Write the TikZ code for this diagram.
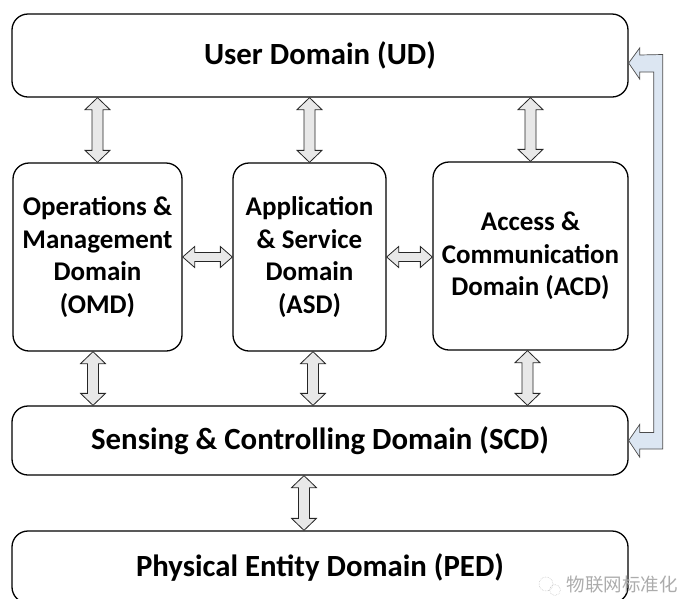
\documentclass[tikz,border=0pt]{standalone}
\usepackage{fontspec}
\setmainfont{Carlito}
\newfontfamily\cjk{Noto Sans CJK SC}
\usetikzlibrary{calc}

\definecolor{bandblue}{RGB}{220,230,242}
\definecolor{arrgray}{RGB}{232,232,232}

\tikzset{
  dom/.style={draw, line width=1.3pt, rounded corners=16pt, align=center,
    inner sep=0pt, font=\bfseries\fontsize{30.8}{36}\selectfont},
  sub/.style={dom, font=\bfseries\fontsize{27}{32.5}\selectfont},
  % vertical block arrow, tip to tip (start above target)
  vfat/.style={draw=black!85, fill=arrgray, line width=0.8pt, line join=miter,
    to path={let \p1=(\tikztostart), \p2=(\tikztotarget) in
      (\x1,\y1) -- (\x1+12.5pt,\y1-12pt) -- (\x1+5.5pt,\y1-12pt)
      -- (\x1+5.5pt,\y2+12pt) -- (\x1+12.5pt,\y2+12pt) -- (\x1,\y2)
      -- (\x1-12.5pt,\y2+12pt) -- (\x1-5.5pt,\y2+12pt)
      -- (\x1-5.5pt,\y1-12pt) -- (\x1-12.5pt,\y1-12pt) -- cycle}},
  % horizontal block arrow, tip to tip (start left of target)
  hfat/.style={draw=black!85, fill=arrgray, line width=0.8pt, line join=miter,
    to path={let \p1=(\tikztostart), \p2=(\tikztotarget) in
      (\x1,\y1) -- (\x1+12pt,\y1+10.5pt) -- (\x1+12pt,\y1+4.5pt)
      -- (\x2-12pt,\y1+4.5pt) -- (\x2-12pt,\y1+10.5pt) -- (\x2,\y1)
      -- (\x2-12pt,\y1-10.5pt) -- (\x2-12pt,\y1-4.5pt)
      -- (\x1+12pt,\y1-4.5pt) -- (\x1+12pt,\y1-10.5pt) -- cycle}},
  band/.style={draw=black!70, fill=bandblue, line width=0.7pt, line join=miter},
}

\begin{document}
\begin{tikzpicture}[x=1pt, y=-1pt]
  \useasboundingbox (0,0) rectangle (681,598);

  % domains
  \node[dom, minimum width=616pt, minimum height=83pt] (ud) at (320,55.5) {User Domain (UD)};
  \node[sub, minimum width=169pt, minimum height=188pt] (omd) at (97.5,257)
    {Operations \&\\Management\\Domain\\(OMD)};
  \node[sub, minimum width=153pt, minimum height=188pt] (asd) at (309.5,257)
    {Application\\\& Service\\Domain\\(ASD)};
  \node[sub, minimum width=195pt, minimum height=188pt] (acd) at (530.5,256)
    {Access \&\\Communication\\Domain (ACD)};
  \node[dom, minimum width=616pt, minimum height=69pt] (scd) at (320,440.5)
    {Sensing \& Controlling Domain (SCD)};
  \node[dom, minimum width=616pt, minimum height=72pt] (ped) at (320,567)
    {Physical Entity Domain (PED)};

  % user domain <-> middle row
  \coordinate (u1) at (omd.north |- ud.south);
  \coordinate (u2) at (asd.north |- ud.south);
  \coordinate (u3) at (acd.north |- ud.south);
  \draw[vfat] (u1) to (omd.north);
  \draw[vfat] (u2) to (asd.north);
  \draw[vfat] (u3) to (acd.north);

  % middle row side by side
  \draw[hfat] (omd.east) to (asd.west);
  \draw[hfat] (asd.east) to (acd.west);

  % middle row <-> sensing
  \coordinate (s1) at ([xshift=-4.5pt]omd.south);
  \coordinate (s2) at ([xshift=3.5pt]asd.south);
  \coordinate (s3) at ([xshift=-3pt]acd.south);
  \draw[vfat] (s1) to (s1 |- scd.north);
  \draw[vfat] (s2) to (s2 |- scd.north);
  \draw[vfat] (s3) to (s3 |- scd.north);

  % sensing <-> physical
  \coordinate (p1) at ([xshift=-5.5pt]asd.south |- scd.south);
  \draw[vfat] (p1) to (p1 |- ped.north);

  % side link sensing <-> user
  \coordinate (rt) at ([yshift=-7.5pt]ud.east);
  \coordinate (rb) at (scd.east);
  \draw[band] let \p1=(rt), \p2=(rb) in
    (\p1) -- ++(11,-15) -- ++(0,7) -- (\x1+34pt,\y1+8.5pt)
    -- (\x1+34pt,\y2-8.5pt) -- ++(-23,0) -- ++(0,8) -- (\p2)
    -- ++(11,-16) -- ++(0,8) -- (\x1+25pt,\y2+8pt)
    -- (\x1+25pt,\y1-9pt) -- ++(-14,0) -- ++(0,7) -- cycle;

  % watermark
  \draw[gray!45, line width=0.6pt, densely dotted] (546,584) circle (7);
  \draw[gray!45, line width=0.6pt, densely dotted] (555,590) circle (5.5);
  \node[text=gray!65, font=\cjk\fontsize{18.5}{18.5}\selectfont, anchor=west] (wm) at (563,585) {物联网标准化};
\end{tikzpicture}
\end{document}
